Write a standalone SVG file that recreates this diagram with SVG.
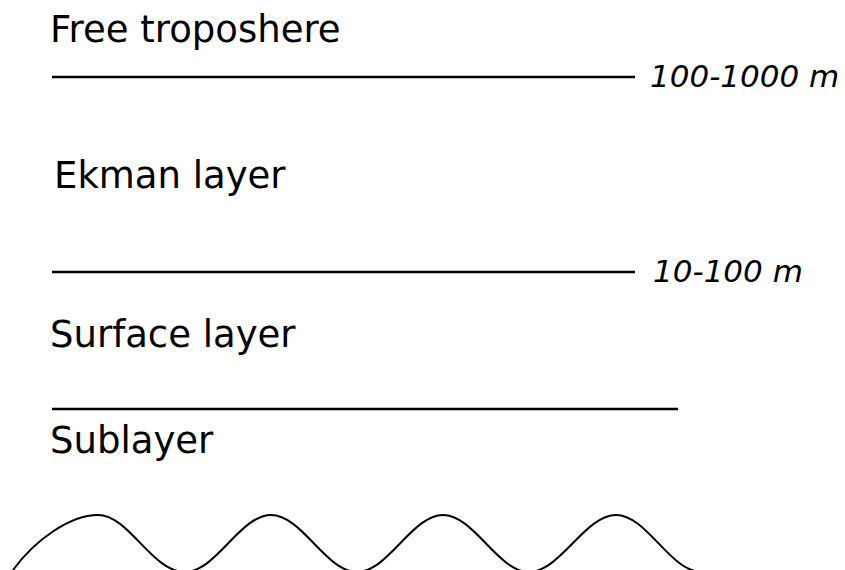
<svg xmlns="http://www.w3.org/2000/svg" width="845" height="570" viewBox="0 0 845 570">
<style>
.lbl{font-family:"DejaVu Sans",Verdana,sans-serif;font-size:37px;fill:#000}
.ht{font-family:"DejaVu Sans",Verdana,sans-serif;font-size:31px;font-style:italic;fill:#000}
.ln{stroke:#000;stroke-width:2.5;fill:none}
.wave{stroke:#000;stroke-width:2;fill:none}
</style>
<rect width="845" height="570" fill="#fff"/>
<g id="connectors">
<line class="ln" x1="52" y1="77" x2="635" y2="77"/>
<line class="ln" x1="52" y1="272" x2="635" y2="272"/>
<line class="ln" x1="52" y1="409" x2="678" y2="409"/>
</g>
<g id="free-troposphere"><text class="lbl" x="50" y="42">Free troposhere</text></g>
<g id="height-1"><text class="ht" x="650" y="87">100-1000 m</text></g>
<g id="ekman-layer"><text class="lbl" x="54" y="188">Ekman layer</text></g>
<g id="height-2"><text class="ht" x="653" y="282">10-100 m</text></g>
<g id="surface-layer"><text class="lbl" x="50" y="347">Surface layer</text></g>
<g id="sublayer"><text class="lbl" x="50" y="453">Sublayer</text></g>
<g id="surface">
<path class="wave" d="M13,570 C35,540 70,515 98,515 C129,515 152,572 185,572 C216,572 240,515 271,515 C302,515 326,572 357,572 C388,572 412,515 443,515 C474,515 498,572 529,572 C560,572 585,515 616,515 C647,515 670,572 702,572"/>
</g>
</svg>
